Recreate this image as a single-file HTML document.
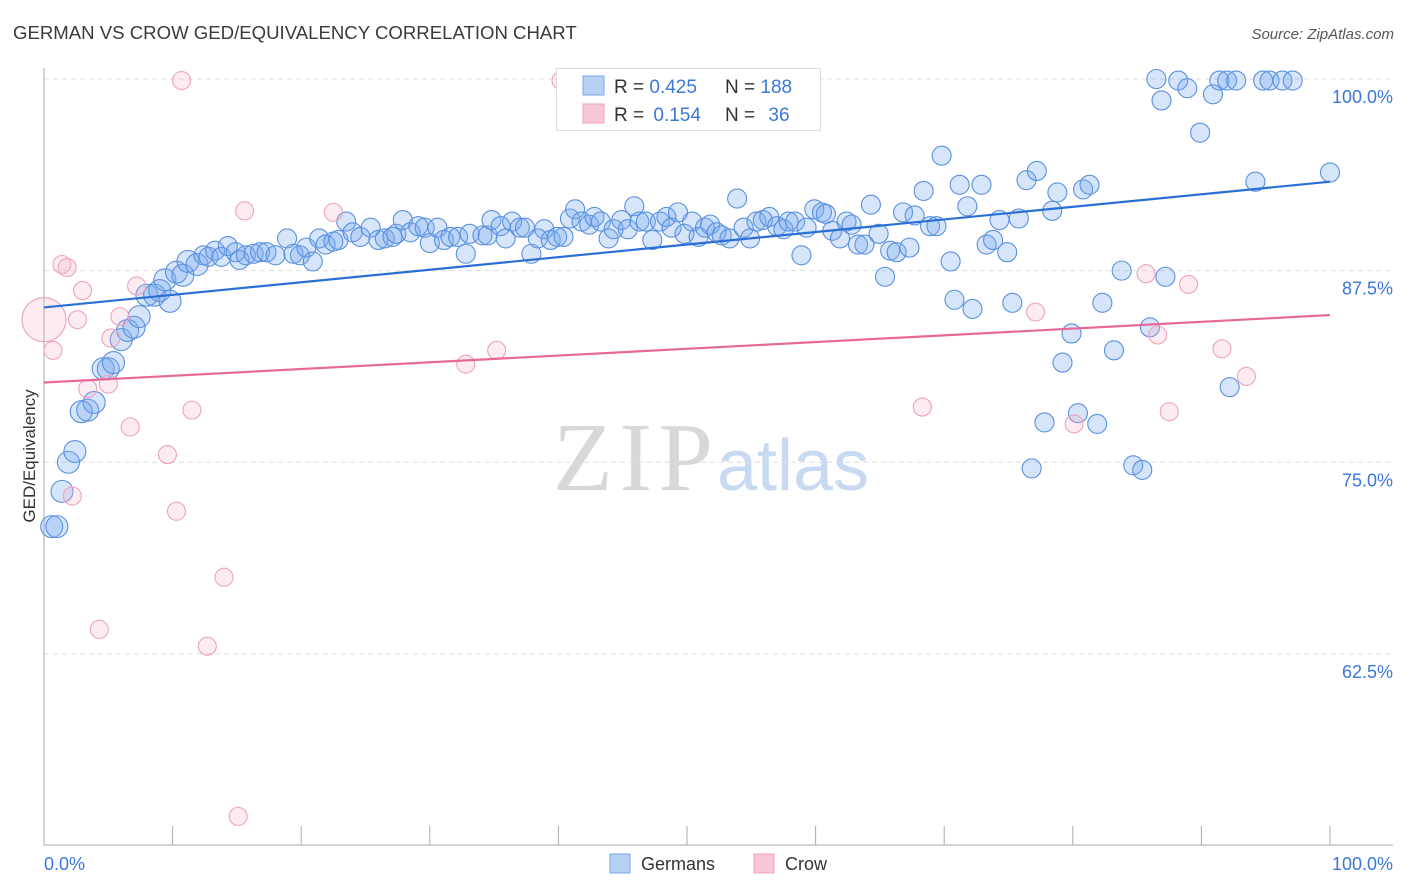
<!DOCTYPE html>
<html><head><meta charset="utf-8">
<style>
body{margin:0;background:#fff;font-family:"Liberation Sans",sans-serif;}
#wrap{position:relative;width:1406px;height:892px;overflow:hidden;}
</style></head>
<body>
<div id="wrap">
<svg id="svg" width="1406" height="892" xmlns="http://www.w3.org/2000/svg">
<text x="13" y="39" font-size="18.6" fill="#3a3a3a">GERMAN VS CROW GED/EQUIVALENCY CORRELATION CHART</text>
<text x="1394" y="39" font-size="15" font-style="italic" fill="#555" text-anchor="end">Source: ZipAtlas.com</text>
<g>
<text x="553" y="490" font-family="Liberation Serif,serif" font-size="98" fill="#d8d8d8" textLength="160">ZIP</text>
<text x="717" y="490" font-size="72" fill="#c8daf2">atlas</text>
</g>
<g id="grid"></g>
<g id="axes"></g>
<g id="pts"></g>
<g id="lines"></g>
<text transform="translate(35,456) rotate(-90)" font-size="17" fill="#333" text-anchor="middle">GED/Equivalency</text>
<g>
<rect x="556.5" y="68.5" width="264" height="62" fill="#fff" stroke="#ddd"/>
<rect x="583" y="76" width="21" height="19" fill="#b7d1f5" stroke="#7aa7e8"/>
<rect x="583" y="104" width="21" height="19" fill="#f9c6d6" stroke="#eea4bd"/>
<text x="614" y="93" font-size="19" fill="#333">R = <tspan fill="#3a78d8">0.425</tspan></text>
<text x="725" y="93" font-size="19" fill="#333">N = <tspan fill="#3a78d8">188</tspan></text>
<text x="614" y="121" font-size="19" fill="#333">R = <tspan fill="#3a78d8" dx="4">0.154</tspan></text>
<text x="725" y="121" font-size="19" fill="#333">N = <tspan fill="#3a78d8" dx="8">36</tspan></text>
</g>
<g>
<rect x="610" y="854" width="20" height="19" fill="#b7d1f5" stroke="#7aa7e8"/>
<text x="641" y="870" font-size="18" fill="#333">Germans</text>
<rect x="754" y="854" width="20" height="19" fill="#f9c6d6" stroke="#eea4bd"/>
<text x="785" y="870" font-size="18" fill="#333">Crow</text>
</g>
</svg>
</div>
<script>
const yTicks=[100,87.5,75,62.5];
const yTickLabels=["100.0%","87.5%","75.0%","62.5%"];
const xTickCount=10;
const xLabels=["0.0%","100.0%"];
const germansX=[0.6,1.0,1.4,1.9,2.4,2.9,3.4,3.9,4.6,5.0,5.4,6.0,6.5,7.0,7.4,8.0,8.6,9.0,9.8,9.4,10.3,10.8,11.2,11.9,12.4,12.8,13.3,13.8,14.3,14.9,15.2,15.7,16.3,16.8,17.3,18.0,18.9,19.4,19.9,20.4,20.9,21.4,21.9,22.5,22.9,23.5,24.0,24.6,25.4,26.0,26.5,27.1,27.4,27.9,28.5,29.1,29.6,30.0,30.6,31.1,31.6,32.2,32.8,33.1,34.1,34.5,34.8,35.5,35.9,36.4,37.0,37.4,37.9,38.4,38.9,39.4,39.9,40.4,40.9,41.3,41.8,42.4,42.8,43.3,43.9,44.3,44.9,45.4,45.9,46.3,46.8,47.3,47.9,48.4,48.8,49.3,49.8,50.4,50.9,51.4,51.8,52.3,52.7,53.3,53.9,54.4,54.9,55.4,55.9,56.4,57.0,57.5,57.9,58.4,58.9,59.3,59.9,60.5,60.8,61.3,61.9,62.4,62.8,63.3,63.8,64.3,64.9,65.4,65.8,66.3,66.8,67.3,67.7,68.4,68.9,69.4,69.8,70.5,70.8,71.2,71.8,72.2,72.9,73.3,73.8,74.3,74.9,75.3,75.8,76.4,76.8,77.2,77.8,78.4,78.8,79.2,79.9,80.4,80.8,81.3,81.9,82.3,83.2,83.8,84.7,85.4,86.0,86.5,86.9,87.2,88.2,88.9,89.9,90.9,91.4,92.0,92.2,92.7,94.2,94.8,95.3,96.3,97.1,100];
const germansY=[70.8,70.8,73.1,75.0,75.7,78.3,78.4,78.9,81.1,81.1,81.5,83.0,83.6,83.8,84.5,85.9,85.9,86.2,85.5,86.9,87.4,87.2,88.1,87.9,88.5,88.4,88.8,88.4,89.1,88.7,88.2,88.5,88.6,88.7,88.7,88.5,89.6,88.6,88.5,89.0,88.1,89.6,89.2,89.4,89.5,90.7,90.0,89.7,90.3,89.5,89.6,89.7,89.9,90.8,90.0,90.4,90.3,89.3,90.3,89.5,89.7,89.7,88.6,89.9,89.8,89.8,90.8,90.4,89.6,90.7,90.3,90.3,88.6,89.6,90.2,89.5,89.7,89.7,90.9,91.5,90.7,90.5,91.0,90.7,89.6,90.2,90.8,90.2,91.7,90.7,90.7,89.5,90.7,91.0,90.3,91.3,89.9,90.7,89.7,90.3,90.5,90.0,89.8,89.6,92.2,90.3,89.6,90.7,90.8,91.0,90.4,90.2,90.7,90.7,88.5,90.3,91.5,91.3,91.2,90.1,89.6,90.7,90.5,89.2,89.2,91.8,89.9,87.1,88.8,88.7,91.3,89.0,91.1,92.7,90.4,90.4,95.0,88.1,85.6,93.1,91.7,85.0,93.1,89.2,89.5,90.8,88.7,85.4,90.9,93.4,74.6,94.0,77.6,91.4,92.6,81.5,83.4,78.2,92.8,93.1,77.5,85.4,82.3,87.5,74.8,74.5,83.8,100,98.6,87.1,99.9,99.4,96.5,99.0,99.9,99.9,79.9,99.9,93.3,99.9,99.9,99.9,99.9,93.9];
const crowX=[0,0.7,1.4,1.8,2.2,2.6,3.0,3.4,4.3,5.0,5.2,5.9,6.7,7.2,9.6,10.3,10.7,11.5,12.7,14.0,15.1,15.6,22.5,32.8,35.2,40.2,56.5,68.3,77.1,80.1,85.7,86.6,87.5,89.0,91.6,93.5];
const crowY=[84.3,82.3,87.9,87.7,72.8,84.3,86.2,79.8,64.1,80.1,83.1,84.5,77.3,86.5,75.5,71.8,99.9,78.4,63.0,67.5,51.9,91.4,91.3,81.4,82.3,99.9,100,78.6,84.8,77.5,87.3,83.3,78.3,86.6,82.4,80.6];
const germansTrend=[85.1,93.3];
const crowTrend=[80.2,84.6];

const NS="http://www.w3.org/2000/svg";
const X0=44,X1=1330,YTOP=79,YPER=15.33;
function sx(p){return X0+p*(X1-X0)/100;}
function sy(v){return YTOP+(100-v)*YPER;}
function mk(tag,attrs,parent){const e=document.createElementNS(NS,tag);for(const k in attrs)e.setAttribute(k,attrs[k]);parent.appendChild(e);return e;}
const grid=document.getElementById('grid'),axes=document.getElementById('axes'),pts=document.getElementById('pts'),lines=document.getElementById('lines');
yTicks.forEach((v,i)=>{
  const l=mk('line',{x1:X0,x2:1393,y1:sy(v),y2:sy(v),stroke:'#ddd','stroke-dasharray':'5,4'},grid);
  
  
  const t=mk('text',{x:1393,y:sy(v)+24,'font-size':18,fill:'#3a78d8','text-anchor':'end'},axes);
  t.textContent=yTickLabels[i];
  
  
});
let a=mk('line',{x1:X0,x2:X0,y1:68,y2:845,stroke:'#aaa'},axes);


a=mk('line',{x1:X0,x2:1393,y1:845,y2:845,stroke:'#aaa'},axes);


for(let i=1;i<=xTickCount;i++){
  const t=mk('line',{x1:sx(i*10),x2:sx(i*10),y1:826,y2:845,stroke:'#aaa'},axes);
  
  
}
let xl=mk('text',{x:X0,y:870,'font-size':18,fill:'#3a78d8'},axes);xl.textContent=xLabels[0];


xl=mk('text',{x:1393,y:870,'font-size':18,fill:'#3a78d8','text-anchor':'end'},axes);xl.textContent=xLabels[1];


germansX.forEach((x,i)=>{
  const r=(x<12)?11:9.5;
  const c=mk('circle',{cx:sx(x),cy:sy(germansY[i]),r:r,fill:'rgba(120,168,238,0.3)',stroke:'#5a90e0','stroke-width':1.1},pts);
  
  
});
crowX.forEach((x,i)=>{
  const r=(i===0)?22:9;
  const c=mk('circle',{cx:sx(x),cy:sy(crowY[i]),r:r,fill:'rgba(245,175,198,0.25)',stroke:'#eda3bc','stroke-width':1.1},pts);
  
  
});
let tl=mk('line',{x1:sx(0),x2:sx(100),y1:sy(germansTrend[0]),y2:sy(germansTrend[1]),stroke:'#2a6fd6','stroke-width':2.2},lines);


tl=mk('line',{x1:sx(0),x2:sx(100),y1:sy(crowTrend[0]),y2:sy(crowTrend[1]),stroke:'#e8689a','stroke-width':2.2},lines);


</script>
</body></html>
